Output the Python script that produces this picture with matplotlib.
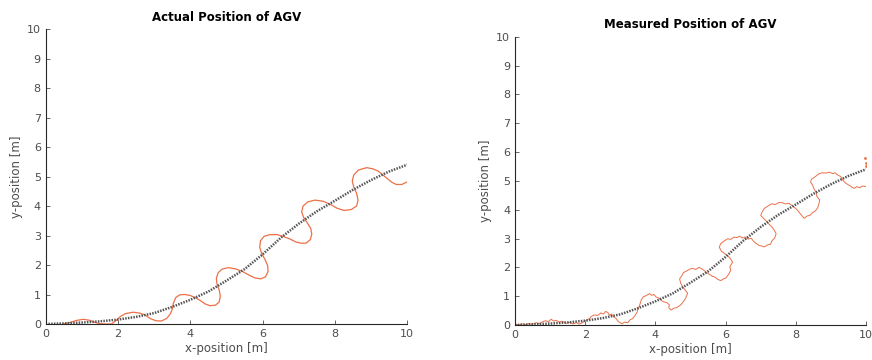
import numpy as np
import matplotlib
matplotlib.use("Agg")
import matplotlib.pyplot as plt

# reference path (black dotted)
ref_x = [0, 0.5, 1, 1.5, 2, 2.5, 3, 3.5, 4, 4.5, 5, 5.5, 6, 6.5, 7, 7.5, 8, 8.5, 9, 9.5, 10]
ref_y = [0, 0.02, 0.05, 0.09, 0.15, 0.24, 0.37, 0.58, 0.82, 1.1, 1.47, 1.86, 2.36, 2.92, 3.4,
         3.82, 4.18, 4.55, 4.88, 5.17, 5.4]

# actual position (smooth orange)
act_x = [0.5, 0.7, 0.85, 1.04, 1.2, 1.35, 1.5, 1.65, 1.82, 1.95, 2.06, 2.2, 2.42, 2.6, 2.75,
         2.9, 3.05, 3.2, 3.35, 3.45, 3.5, 3.53, 3.6, 3.71, 3.85, 3.99, 4.13, 4.27, 4.41, 4.55,
         4.7, 4.8, 4.83, 4.8, 4.74, 4.72, 4.77, 4.88, 5.05, 5.25, 5.46, 5.62, 5.79, 5.95, 6.08,
         6.15, 6.14, 6.06, 5.97, 5.92, 5.94, 6.04, 6.2, 6.4, 6.57, 6.76, 6.92, 7.06, 7.2, 7.32,
         7.36, 7.33, 7.24, 7.14, 7.08, 7.12, 7.25, 7.45, 7.68, 7.88, 8.05, 8.25, 8.45, 8.6, 8.64,
         8.6, 8.52, 8.48, 8.52, 8.65, 8.88, 9.05, 9.2, 9.33, 9.45, 9.58, 9.7, 9.85, 10.0]
act_y = [0.0, 0.06, 0.12, 0.16, 0.13, 0.06, 0.01, 0.0, 0.0, 0.12, 0.25, 0.35, 0.4, 0.37, 0.3,
         0.18, 0.11, 0.1, 0.19, 0.35, 0.5, 0.7, 0.9, 0.99, 1.0, 0.97, 0.9, 0.8, 0.68, 0.62,
         0.64, 0.75, 0.95, 1.15, 1.35, 1.55, 1.74, 1.86, 1.91, 1.87, 1.77, 1.66, 1.56, 1.53, 1.6,
         1.78, 1.98, 2.2, 2.4, 2.6, 2.82, 2.97, 3.03, 3.03, 2.97, 2.88, 2.78, 2.74, 2.74, 2.86,
         3.05, 3.24, 3.42, 3.6, 3.8, 4.0, 4.14, 4.2, 4.16, 4.05, 3.93, 3.85, 3.88, 4.0, 4.2,
         4.43, 4.64, 4.85, 5.05, 5.22, 5.3, 5.26, 5.18, 5.05, 4.93, 4.8, 4.73, 4.73, 4.82]

# measured position (jagged orange)
meas_x = [0, 0.1, 0.2, 0.3, 0.4, 0.5, 0.6, 0.7, 0.8, 0.88, 0.95, 1.03, 1.1, 1.18, 1.26, 1.35,
          1.45, 1.55, 1.65, 1.75, 1.83, 1.9, 1.98, 2.05, 2.12, 2.18, 2.26, 2.35, 2.45, 2.52,
          2.58, 2.64, 2.69, 2.75, 2.82, 2.88, 2.93, 2.98, 3.05, 3.12, 3.21, 3.28, 3.35, 3.42,
          3.48, 3.52, 3.56, 3.6, 3.66, 3.74, 3.83, 3.9, 3.96, 4.02, 4.1, 4.17, 4.24, 4.32, 4.4,
          4.38, 4.45, 4.52, 4.6, 4.68, 4.74, 4.8, 4.85, 4.92, 4.86, 4.78, 4.72, 4.69, 4.75, 4.8,
          4.9, 4.98, 5.06, 5.15, 5.25, 5.32, 5.4, 5.46, 5.54, 5.62, 5.7, 5.78, 5.86, 5.94, 6.01,
          6.08, 6.15, 6.12, 6.2, 6.14, 6.06, 5.95, 5.88, 5.82, 5.86, 5.94, 6.06, 6.15, 6.24, 6.32,
          6.4, 6.48, 6.56, 6.64, 6.73, 6.8, 6.87, 6.95, 7.03, 7.11, 7.2, 7.28, 7.32, 7.4, 7.44,
          7.38, 7.32, 7.25, 7.15, 7.08, 7.0, 7.04, 7.1, 7.2, 7.3, 7.42, 7.52, 7.62, 7.7, 7.8,
          7.9, 7.98, 8.06, 8.1, 8.18, 8.24, 8.32, 8.4, 8.48, 8.56, 8.62, 8.66, 8.68, 8.6, 8.58,
          8.52, 8.48, 8.42, 8.45, 8.55, 8.65, 8.75, 8.86, 8.96, 9.05, 9.12, 9.2, 9.28, 9.34,
          9.42, 9.5, 9.58, 9.66, 9.74, 9.82, 9.9, 10.0]
meas_y = [0.03, 0.0, 0.04, 0.02, 0.05, 0.03, 0.08, 0.05, 0.12, 0.15, 0.11, 0.2, 0.14, 0.16,
          0.1, 0.13, 0.06, 0.09, 0.04, 0.08, 0.03, 0.07, 0.12, 0.18, 0.22, 0.3, 0.35, 0.33,
          0.42, 0.38, 0.47, 0.44, 0.34, 0.38, 0.27, 0.23, 0.14, 0.09, 0.04, 0.1, 0.08, 0.18,
          0.22, 0.33, 0.45, 0.6, 0.72, 0.88, 0.98, 1.02, 1.09, 1.03, 1.06, 0.97, 0.93, 0.85,
          0.8, 0.78, 0.7, 0.6, 0.52, 0.58, 0.6, 0.66, 0.72, 0.82, 0.9, 1.1, 1.2, 1.32, 1.45,
          1.6, 1.7, 1.82, 1.88, 1.94, 1.96, 1.93, 2.0, 1.95, 1.88, 1.82, 1.76, 1.69, 1.66, 1.58,
          1.54, 1.6, 1.63, 1.75, 1.9, 2.02, 2.18, 2.3, 2.4, 2.5, 2.56, 2.7, 2.82, 2.9, 2.99,
          2.97, 3.05, 3.03, 3.08, 3.02, 3.05, 2.98, 3.01, 2.9, 2.83, 2.76, 2.74, 2.71, 2.78,
          2.8, 2.92, 3.02, 3.17, 3.3, 3.4, 3.48, 3.62, 3.7, 3.8, 3.92, 4.04, 4.12, 4.2, 4.18,
          4.25, 4.24, 4.2, 4.22, 4.14, 4.06, 3.97, 3.9, 3.78, 3.7, 3.78, 3.8, 3.9, 3.96, 4.06,
          4.2, 4.34, 4.46, 4.6, 4.72, 4.85, 4.96, 5.06, 5.14, 5.24, 5.28, 5.27, 5.3, 5.25,
          5.28, 5.2, 5.15, 5.02, 4.92, 4.86, 4.8, 4.74, 4.8, 4.76, 4.82, 4.8]
stray_x = [9.98, 10.0, 9.99]
stray_y = [5.78, 5.62, 5.5]

orange = '#EC7048'
grey = '#555555'

fig = plt.figure(figsize=(8.72, 3.6), dpi=100)
ax1 = fig.add_axes([0.0524, 0.1, 0.4146, 0.8194])
ax2 = fig.add_axes([0.5906, 0.0972, 0.4025, 0.8009])

def style(ax, title):
    ax.set_xlim(0, 10)
    ax.set_ylim(0, 10)
    ax.set_xticks([0, 2, 4, 6, 8, 10])
    ax.set_yticks(range(0, 11))
    for s in ['top', 'right']:
        ax.spines[s].set_visible(False)
    for s in ['left', 'bottom']:
        ax.spines[s].set_color('#262626')
        ax.spines[s].set_linewidth(0.8)
    ax.tick_params(direction='in', length=3, width=0.6, labelsize=8, colors='#4d4d4d')
    ax.set_xlabel('x-position [m]', fontsize=8.5, color='#4d4d4d', labelpad=2)
    ax.set_ylabel('y-position [m]', fontsize=8.5, color='#4d4d4d', labelpad=3)
    ax.set_title(title, fontsize=8.5, fontweight='bold', pad=6)

ax1.plot(act_x, act_y, color=orange, lw=0.9)
ax1.plot(ref_x, ref_y, color=grey, lw=1.8, ls=(0, (0.6, 0.5)))
style(ax1, 'Actual Position of AGV')

ax2.plot(meas_x, meas_y, color=orange, lw=0.7)
ax2.plot(stray_x, stray_y, '.', color=orange, ms=2)
ax2.plot(ref_x, ref_y, color=grey, lw=1.8, ls=(0, (0.6, 0.5)))
style(ax2, 'Measured Position of AGV')

fig.savefig('out.png', dpi=100)
